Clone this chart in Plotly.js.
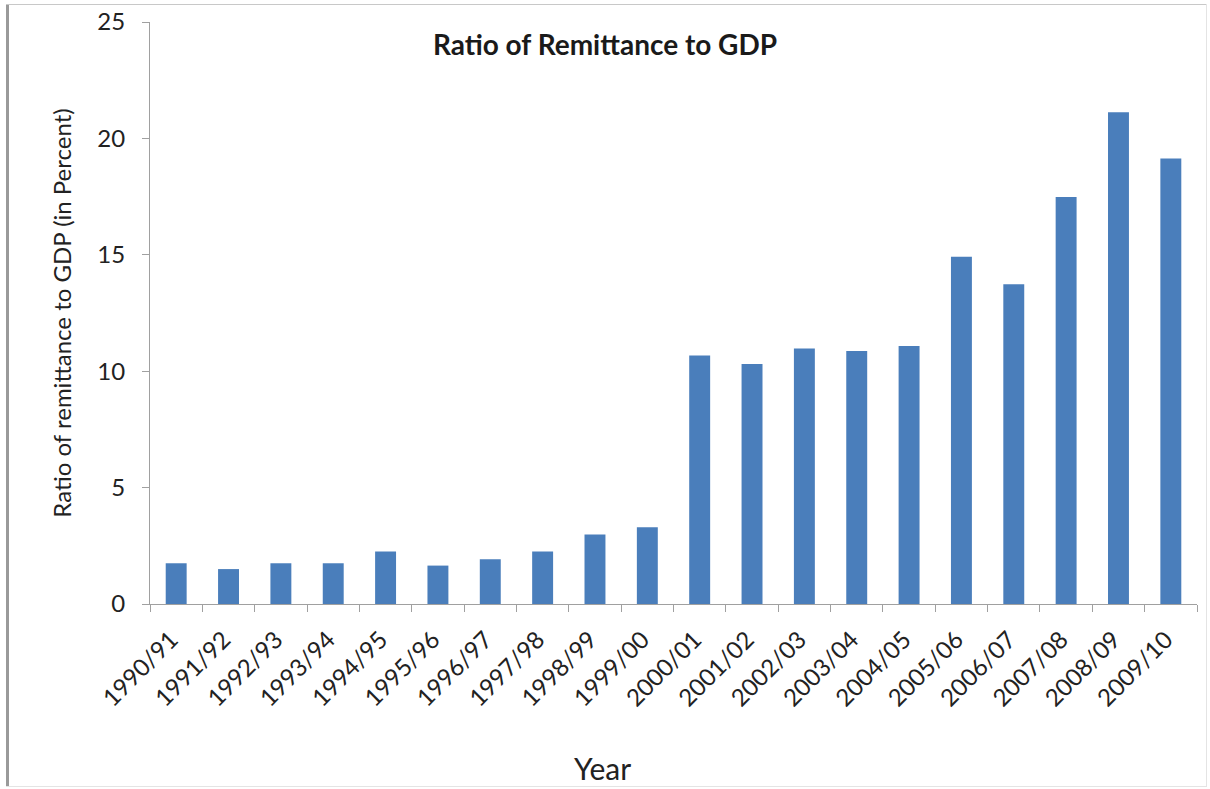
<!DOCTYPE html>
<html>
<head>
<meta charset="utf-8">
<script src="https://cdn.plot.ly/plotly-3.0.1.min.js"></script>
<style>
  html, body { margin: 0; padding: 0; background: #fff; }
  #chart { width: 1210px; height: 789px; position: absolute; left: 0; top: 0; }
  #frameL { position: absolute; left: 6px; top: 4px; width: 3px; height: 783px; background: #9a9a9a; }
  #frameT { position: absolute; left: 6px; top: 4px; width: 1200px; height: 1px; background: #c8c8c8; }
  #frameR { position: absolute; left: 1206px; top: 4px; width: 1px; height: 783px; background: #e4e4e4; }
  #frameB { position: absolute; left: 6px; top: 786px; width: 1200px; height: 1px; background: #e4e4e4; }
</style>
</head>
<body>
<div id="chart"></div>
<div id="frameL"></div><div id="frameT"></div><div id="frameR"></div><div id="frameB"></div>
<script>
const years = ["1990/91","1991/92","1992/93","1993/94","1994/95","1995/96","1996/97","1997/98","1998/99","1999/00",
               "2000/01","2001/02","2002/03","2003/04","2004/05","2005/06","2006/07","2007/08","2008/09","2009/10"];
const ratio = [1.75, 1.5, 1.75, 1.75, 2.25, 1.65, 1.92, 2.25, 2.99, 3.3,
               10.67, 10.31, 10.97, 10.87, 11.08, 14.92, 13.73, 17.48, 21.12, 19.14];
const yTicks = [0, 5, 10, 15, 20, 25];

const fontFam = "Lato, 'Open Sans', sans-serif";

Plotly.newPlot('chart', [{
  type: 'bar',
  x: years,
  y: ratio,
  marker: { color: '#4A7EBB' },
  hoverinfo: 'x+y'
}], {
  width: 1210, height: 789,
  margin: { l: 150, r: 13, t: 22, b: 185 },
  paper_bgcolor: '#ffffff',
  plot_bgcolor: '#ffffff',
  bargap: 0.6,
  showlegend: false,
  title: {
    text: '<b>Ratio of Remittance to GDP</b>',
    font: { family: fontFam, size: 28, color: '#1a1a1a' },
    x: 0.5, xanchor: 'center', y: 0.943, yanchor: 'middle'
  },
  xaxis: {
    type: 'category',
    tickangle: -45,
    ticks: 'outside', ticklen: 7, tickcolor: '#a0a0a0', tickson: 'boundaries',
    ticklabelstandoff: 11,
    ticklabelshift: -5,
    showline: true, linecolor: '#a0a0a0', linewidth: 1,
    showgrid: false, zeroline: false,
    tickfont: { family: fontFam, size: 24, color: '#222' }
  },
  yaxis: {
    range: [0, 25],
    tickvals: yTicks,
    ticktext: yTicks.map(String),
    ticks: 'outside', ticklen: 7, tickcolor: '#a0a0a0',
    ticklabelstandoff: 12,
    showline: true, linecolor: '#a0a0a0', linewidth: 1,
    showgrid: false, zeroline: false,
    tickfont: { family: fontFam, size: 24, color: '#222' },
    title: { text: 'Ratio of remittance to GDP (in Percent)', font: { family: fontFam, size: 24, color: '#222' }, standoff: 18 }
  },
  annotations: [{
    text: 'Year',
    xref: 'paper', yref: 'paper',
    x: (602 - 150) / 1047, y: -0.282,
    xanchor: 'center', yanchor: 'middle',
    showarrow: false,
    font: { family: fontFam, size: 30, color: '#222' }
  }]
}, { displayModeBar: false, staticPlot: false });
</script>
</body>
</html>
